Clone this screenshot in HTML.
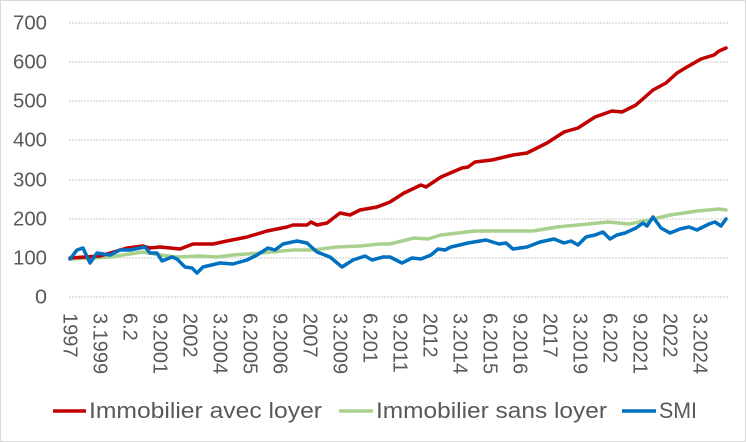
<!DOCTYPE html>
<html><head><meta charset="utf-8"><style>
html,body{margin:0;padding:0;background:#fff;}
svg{display:block;font-family:"Liberation Sans",sans-serif;}
</style></head><body>
<svg width="746" height="442" viewBox="0 0 746 442">
<rect x="0.5" y="0.5" width="745" height="441" fill="#fff" stroke="#d9d9d9"/>
<g stroke="#c8c8c8" stroke-width="1" stroke-dasharray="2,1">
<line x1="69" x2="728" y1="23" y2="23"/><line x1="69" x2="728" y1="62" y2="62"/>
<line x1="69" x2="728" y1="101" y2="101"/><line x1="69" x2="728" y1="140" y2="140"/>
<line x1="69" x2="728" y1="180" y2="180"/><line x1="69" x2="728" y1="219" y2="219"/>
<line x1="69" x2="728" y1="258" y2="258"/><line x1="69" x2="728" y1="297" y2="297"/>
</g>
<g fill="#595959" font-size="20" text-anchor="end" dominant-baseline="middle">
<text x="47" y="24" textLength="34" lengthAdjust="spacingAndGlyphs">700</text>
<text x="47" y="63" textLength="34" lengthAdjust="spacingAndGlyphs">600</text>
<text x="47" y="102" textLength="34" lengthAdjust="spacingAndGlyphs">500</text>
<text x="47" y="141" textLength="34" lengthAdjust="spacingAndGlyphs">400</text>
<text x="47" y="181" textLength="34" lengthAdjust="spacingAndGlyphs">300</text>
<text x="47" y="220" textLength="34" lengthAdjust="spacingAndGlyphs">200</text>
<text x="47" y="259" textLength="34" lengthAdjust="spacingAndGlyphs">100</text>
<text x="47" y="298" textLength="12" lengthAdjust="spacingAndGlyphs">0</text>
</g>
<g fill="#595959" font-size="20" dominant-baseline="middle">
<text transform="translate(69,313) rotate(90)">1997</text>
<text transform="translate(99,313) rotate(90)">3.1999</text>
<text transform="translate(129,313) rotate(90)">6.2</text>
<text transform="translate(159,313) rotate(90)">9.2001</text>
<text transform="translate(189,313) rotate(90)">2002</text>
<text transform="translate(219,313) rotate(90)">3.2004</text>
<text transform="translate(249,313) rotate(90)">6.2005</text>
<text transform="translate(279,313) rotate(90)">9.2006</text>
<text transform="translate(309,313) rotate(90)">2007</text>
<text transform="translate(339,313) rotate(90)">3.2009</text>
<text transform="translate(369,313) rotate(90)">6.201</text>
<text transform="translate(399,313) rotate(90)">9.2011</text>
<text transform="translate(429,313) rotate(90)">2012</text>
<text transform="translate(459,313) rotate(90)">3.2014</text>
<text transform="translate(489,313) rotate(90)">6.2015</text>
<text transform="translate(519,313) rotate(90)">9.2016</text>
<text transform="translate(549,313) rotate(90)">2017</text>
<text transform="translate(579,313) rotate(90)">3.2019</text>
<text transform="translate(609,313) rotate(90)">6.202</text>
<text transform="translate(639,313) rotate(90)">9.2021</text>
<text transform="translate(669,313) rotate(90)">2022</text>
<text transform="translate(699,313) rotate(90)">3.2024</text>
</g>
<g fill="none" stroke-width="3.5" stroke-linejoin="round" stroke-linecap="round">
<polyline stroke="#a9d18e" points="70,259 110,257 143,252 160,255 177,257 200,256 217,257 233,255 260,253 293,250 313,250 337,247 360,246 380,244 390,244 414,238 428,239 441,235 475,231 533,231 557,227 588,224 608,222 629,224 649,220 670,215 697,211 719,209 726,210"/>
<polyline stroke="#c00000" points="70,258 100,256 127,248 143,246 150,248 160,247 180,249 193,244 213,244 227,241 247,237 267,231 287,227 293,225 307,225 311,222 317,225 327,223 340,213 350,215 360,210 377,207 390,202 404,193 421,185 426,187 441,177 462,168 468,167 475,162 492,160 513,155 527,153 547,143 564,132 578,128 595,117 612,111 622,112 636,105 653,90 666,83 677,73 687,67 701,59 714,55 719,51 726,48"/>
<polyline stroke="#0070c0" points="70,259 77,250 83,248 90,263 97,253 110,255 120,250 130,250 140,248 145,247 150,253 157,253 162,261 172,257 177,259 185,267 192,268 197,273 203,267 220,263 233,264 247,260 257,255 268,248 275,250 283,244 297,241 307,243 317,252 330,257 342,267 353,260 365,256 372,260 383,257 390,257 402,263 412,258 421,259 431,255 438,249 445,250 451,247 468,243 486,240 499,244 506,243 513,249 527,247 540,242 554,239 564,243 571,241 578,245 586,237 595,235 603,232 610,239 617,235 625,233 636,228 643,223 647,226 653,217 661,228 670,233 680,229 689,227 697,230 709,224 715,222 721,226 726,219"/>
</g>
<g font-size="22" fill="#595959" dominant-baseline="middle">
<line x1="53" x2="86" y1="411" y2="411" stroke="#c00000" stroke-width="3.5"/>
<text x="89" y="412" textLength="233" lengthAdjust="spacingAndGlyphs">Immobilier avec loyer</text>
<line x1="339" x2="373" y1="411" y2="411" stroke="#a9d18e" stroke-width="3.5"/>
<text x="376" y="412" textLength="231" lengthAdjust="spacingAndGlyphs">Immobilier sans loyer</text>
<line x1="622" x2="656" y1="411" y2="411" stroke="#0070c0" stroke-width="3.5"/>
<text x="659" y="412" textLength="38" lengthAdjust="spacingAndGlyphs">SMI</text>
</g>
</svg>
</body></html>
